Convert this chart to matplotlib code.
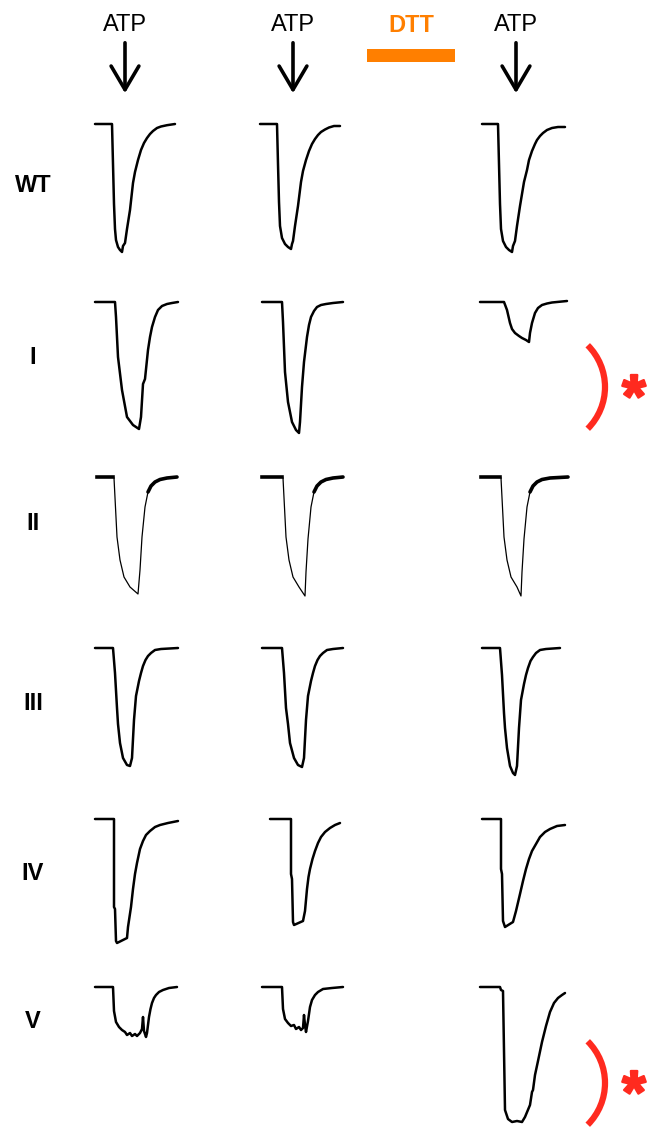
import matplotlib
matplotlib.use("Agg")
from matplotlib import pyplot as plt
from matplotlib import patheffects
from matplotlib.patches import Arc, Rectangle, FancyArrowPatch

# ATP-evoked currents, time in s, current in nA (baseline = 0)
row_labels = ["WT", "I", "II", "III", "IV", "V"]
top_labels = ["ATP", "ATP", "ATP"]

t_wt_1 = [0, 1.7, 1.8, 1.9, 2.0, 2.1, 2.3, 2.5, 2.7, 2.8, 3.0, 3.2, 3.5, 3.8, 4.0, 4.3, 4.6, 4.9, 5.2, 5.5, 5.8, 6.2, 6.6, 7.2, 8.0]
i_wt_1 = [0, 0, -0.40, -0.80, -1.05, -1.16, -1.23, -1.26, -1.28, -1.22, -1.19, -1.05, -0.86, -0.59, -0.48, -0.36, -0.26, -0.19, -0.14, -0.10, -0.07, -0.04, -0.025, -0.012, 0]
t_wt_2 = [0, 1.7, 1.8, 1.9, 2.0, 2.2, 2.5, 2.8, 3.1, 3.2, 3.3, 3.5, 3.8, 4.1, 4.3, 4.6, 4.9, 5.2, 5.5, 5.8, 6.1, 6.5, 6.9, 7.4, 8.0]
i_wt_2 = [0, 0, -0.40, -0.78, -1.02, -1.14, -1.20, -1.23, -1.25, -1.20, -1.17, -1.02, -0.82, -0.58, -0.47, -0.36, -0.27, -0.20, -0.15, -0.11, -0.08, -0.055, -0.035, -0.02, -0.02]
t_wt_3 = [0, 1.6, 1.7, 1.8, 1.9, 2.1, 2.4, 2.7, 3.0, 3.1, 3.3, 3.5, 3.8, 4.2, 4.5, 4.7, 5.0, 5.3, 5.5, 5.8, 6.1, 6.5, 7.0, 7.6, 8.3]
i_wt_3 = [0, 0, -0.40, -0.80, -1.05, -1.17, -1.23, -1.26, -1.28, -1.22, -1.17, -1.02, -0.82, -0.58, -0.46, -0.36, -0.27, -0.20, -0.16, -0.12, -0.09, -0.06, -0.04, -0.03, -0.03]

t_i_1 = [0, 2.0, 2.1, 2.3, 2.7, 3.2, 3.8, 4.4, 4.6, 4.8, 5.0, 5.3, 5.5, 5.7, 6.0, 6.3, 6.7, 7.2, 7.7, 8.3]
i_i_1 = [0, 0, -0.15, -0.55, -0.88, -1.15, -1.23, -1.27, -1.15, -0.82, -0.77, -0.48, -0.35, -0.25, -0.15, -0.08, -0.04, -0.02, -0.01, 0]
t_i_2 = [0.2, 2.2, 2.3, 2.5, 2.8, 3.2, 3.6, 3.9, 4.0, 4.2, 4.4, 4.7, 4.9, 5.1, 5.4, 5.7, 6.1, 6.6, 7.3, 8.3]
i_i_2 = [0, 0, -0.20, -0.70, -1.00, -1.20, -1.28, -1.31, -1.20, -0.85, -0.60, -0.35, -0.23, -0.15, -0.09, -0.05, -0.03, -0.02, -0.01, 0]
t_i_3 = [-0.2, 2.2, 2.5, 2.8, 3.0, 3.3, 3.7, 4.0, 4.4, 4.7, 4.8, 5.0, 5.3, 5.6, 6.0, 6.5, 7.0, 8.5]
i_i_3 = [0, 0, -0.08, -0.21, -0.27, -0.31, -0.34, -0.36, -0.38, -0.40, -0.31, -0.21, -0.11, -0.06, -0.03, -0.015, -0.005, 0.01]

t_ii_1 = [0.2, 1.8, 1.9, 2.2, 2.5, 2.9, 3.5, 4.3, 4.5, 4.7, 5.0, 5.3, 5.6, 6.0, 6.5, 7.2, 8.2]
i_ii_1 = [0, 0, -0.01, -0.60, -0.83, -1.00, -1.10, -1.17, -0.93, -0.60, -0.30, -0.15, -0.09, -0.05, -0.025, -0.01, 0]
t_ii_2 = [0.2, 2.2, 2.3, 2.6, 2.9, 3.3, 3.9, 4.5, 4.6, 4.8, 5.1, 5.4, 5.7, 6.1, 6.6, 7.3, 8.3]
i_ii_2 = [0, 0, -0.01, -0.60, -0.83, -1.00, -1.10, -1.19, -0.95, -0.62, -0.30, -0.15, -0.09, -0.05, -0.025, -0.01, 0]
t_ii_3 = [-0.1, 1.8, 1.9, 2.2, 2.5, 2.9, 3.5, 3.9, 4.0, 4.2, 4.5, 4.8, 5.1, 5.5, 6.0, 6.8, 8.6]
i_ii_3 = [0, 0, -0.01, -0.60, -0.83, -1.00, -1.10, -1.19, -0.95, -0.62, -0.30, -0.15, -0.09, -0.05, -0.025, -0.01, 0]

t_iii_1 = [0, 1.8, 2.0, 2.2, 2.3, 2.5, 2.8, 3.2, 3.5, 3.7, 3.9, 4.1, 4.4, 4.6, 4.8, 5.05, 5.3, 5.6, 6.0, 6.6, 8.3]
i_iii_1 = [0, 0, -0.25, -0.60, -0.76, -0.95, -1.10, -1.17, -1.18, -1.10, -0.72, -0.48, -0.33, -0.25, -0.18, -0.12, -0.08, -0.05, -0.02, -0.01, 0]
t_iii_2 = [0.2, 2.2, 2.4, 2.6, 2.8, 3.0, 3.4, 3.8, 4.2, 4.4, 4.6, 4.8, 5.1, 5.3, 5.5, 5.75, 6.0, 6.3, 6.7, 7.3, 8.3]
i_iii_2 = [0, 0, -0.25, -0.60, -0.76, -0.95, -1.10, -1.17, -1.19, -1.10, -0.72, -0.48, -0.33, -0.25, -0.18, -0.12, -0.08, -0.05, -0.02, -0.01, 0]
t_iii_3 = [0, 1.8, 2.0, 2.2, 2.3, 2.5, 2.8, 3.1, 3.3, 3.5, 3.7, 3.9, 4.2, 4.4, 4.6, 4.85, 5.1, 5.4, 5.8, 6.4, 7.8]
i_iii_3 = [0, 0, -0.27, -0.65, -0.80, -1.00, -1.18, -1.25, -1.27, -1.18, -0.80, -0.52, -0.36, -0.27, -0.20, -0.13, -0.09, -0.05, -0.02, -0.01, 0]

t_iv_1 = [0, 1.9, 1.9, 2.0, 2.1, 2.2, 3.2, 3.3, 3.6, 3.8, 4.0, 4.2, 4.5, 4.8, 5.1, 5.5, 6.0, 6.5, 7.3, 8.3]
i_iv_1 = [0, 0, -0.88, -0.90, -1.22, -1.24, -1.19, -1.08, -0.88, -0.70, -0.55, -0.44, -0.30, -0.22, -0.16, -0.12, -0.08, -0.06, -0.04, -0.02]
t_iv_2 = [1.0, 3.1, 3.1, 3.2, 3.3, 3.4, 4.3, 4.5, 4.7, 4.85, 5.0, 5.25, 5.5, 5.8, 6.1, 6.5, 7.0, 7.5, 8.0]
i_iv_2 = [0, 0, -0.55, -0.60, -1.03, -1.06, -1.02, -0.92, -0.70, -0.58, -0.50, -0.40, -0.32, -0.24, -0.18, -0.13, -0.09, -0.06, -0.04]
t_iv_3 = [0, 1.9, 1.9, 2.0, 2.1, 2.3, 3.1, 3.4, 3.8, 4.1, 4.4, 4.7, 5.0, 5.4, 5.8, 6.3, 6.8, 7.5, 8.3]
i_iv_3 = [0, 0, -0.50, -0.55, -1.02, -1.08, -1.03, -0.92, -0.75, -0.62, -0.50, -0.40, -0.32, -0.25, -0.18, -0.13, -0.10, -0.07, -0.06]

t_v_1 = [0, 1.8, 1.9, 2.1, 2.4, 2.7, 3.0, 3.2, 3.5, 3.7, 4.0, 4.2, 4.5, 4.7, 4.8, 4.9, 5.1, 5.2, 5.4, 5.55, 5.7, 5.9, 6.1, 6.4, 6.8, 7.4, 8.2]
i_v_1 = [0, 0, -0.24, -0.35, -0.40, -0.43, -0.45, -0.48, -0.46, -0.49, -0.47, -0.49, -0.46, -0.42, -0.30, -0.44, -0.50, -0.46, -0.30, -0.22, -0.16, -0.11, -0.08, -0.05, -0.03, -0.01, 0]
t_v_2 = [0.2, 2.2, 2.3, 2.5, 2.8, 3.1, 3.4, 3.6, 3.9, 4.1, 4.3, 4.4, 4.5, 4.6, 4.8, 5.0, 5.2, 5.5, 5.8, 6.3, 7.2, 8.3]
i_v_2 = [0, 0, -0.22, -0.32, -0.36, -0.39, -0.38, -0.42, -0.40, -0.43, -0.41, -0.28, -0.38, -0.45, -0.34, -0.20, -0.13, -0.08, -0.05, -0.02, -0.01, 0]
t_v_3 = [-0.2, 1.8, 1.9, 2.1, 2.3, 2.6, 3.0, 3.5, 4.0, 4.3, 4.8, 5.0, 5.1, 5.3, 5.6, 6.0, 6.4, 6.8, 7.2, 7.6, 8.0, 8.3]
i_v_3 = [0, 0, -0.03, -0.04, -1.23, -1.32, -1.35, -1.34, -1.35, -1.30, -1.18, -1.05, -1.03, -0.88, -0.74, -0.55, -0.39, -0.25, -0.16, -0.11, -0.08, -0.06]

traces = [
    [(t_wt_1, i_wt_1), (t_wt_2, i_wt_2), (t_wt_3, i_wt_3)],
    [(t_i_1, i_i_1), (t_i_2, i_i_2), (t_i_3, i_i_3)],
    [(t_ii_1, i_ii_1), (t_ii_2, i_ii_2), (t_ii_3, i_ii_3)],
    [(t_iii_1, i_iii_1), (t_iii_2, i_iii_2), (t_iii_3, i_iii_3)],
    [(t_iv_1, i_iv_1), (t_iv_2, i_iv_2), (t_iv_3, i_iv_3)],
    [(t_v_1, i_v_1), (t_v_2, i_v_2), (t_v_3, i_v_3)],
]

W, H = 658, 1127
col_x = [95, 260, 482]
row_y = [124, 302, 477, 648, 819, 987]
label_y = [185, 357, 523, 703, 873, 1022]
arrow_x = [125, 293, 516]
RED = "#ff2a1f"
ORANGE = "#ff7f00"


def px_axes(fig, x, y, w, h):
    return fig.add_axes([x / W, 1 - (y + h) / H, w / W, h / H])


def main():
    plt.rcParams["font.family"] = ["Liberation Sans", "DejaVu Sans"]
    fig = plt.figure(figsize=(W / 100, H / 100), dpi=100)

    for r, row in enumerate(traces):
        for c, (t, cur) in enumerate(row):
            ax = px_axes(fig, col_x[c] - 10, row_y[r] - 10, 110, 160)
            ax.set_xlim(-1, 10)
            ax.set_ylim(-1.5, 0.1)
            ax.set_axis_off()
            if r == 2:
                # thin trace with thicker baseline/tail
                ax.plot(t, cur, color="black", lw=0.9, solid_joinstyle="round")
                ax.plot(t[:2], cur[:2], color="black", lw=2.6)
                ax.plot(t[-6:], cur[-6:], color="black", lw=2.6, solid_capstyle="round")
            else:
                ax.plot(t, cur, color="black", lw=1.8, solid_joinstyle="round",
                        solid_capstyle="round")

    ov = fig.add_axes([0, 0, 1, 1])
    ov.set_xlim(0, W)
    ov.set_ylim(H, 0)
    ov.set_axis_off()

    for lab, y in zip(row_labels, label_y):
        ov.text(33, y, lab, ha="center", va="center", fontsize=17, fontweight="bold")

    for lab, x in zip(top_labels, arrow_x):
        ov.text(x, 25, lab, ha="center", va="center", fontsize=17)
        ov.add_patch(FancyArrowPatch((x, 40), (x, 96), arrowstyle="->,head_length=0.85,head_width=0.5",
                                     mutation_scale=20, lw=2.6, color="black"))

    ov.text(411, 25, "DTT", ha="center", va="center", fontsize=17, fontweight="bold", color=ORANGE)
    ov.add_patch(Rectangle((367, 49), 88, 13, color=ORANGE, lw=0))

    thick = [patheffects.withStroke(linewidth=1.6, foreground=RED)]
    for yc, ytop in [(387, 373), (1083, 1069)]:
        ov.add_patch(Arc((546, yc), 118, 118, theta1=-45, theta2=45, color=RED, lw=4.5))
        ov.text(634, ytop, "*", ha="center", va="top", fontsize=44,
                fontweight="bold", color=RED, path_effects=thick)

    fig.savefig("out.png", dpi=100)
    plt.close(fig)


if __name__ == "__main__":
    main()
